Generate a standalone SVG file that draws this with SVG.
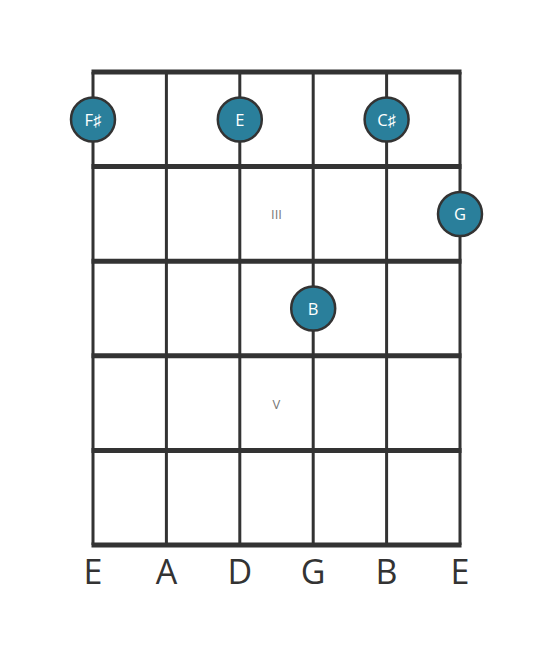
<svg xmlns="http://www.w3.org/2000/svg" width="553" height="656" viewBox="0 0 553 656">
<style>
.fret{stroke:#333;stroke-width:5;}
.str{stroke:#333;stroke-width:3;}
.note circle{fill:#2a7f9b;stroke:#333;stroke-width:2.5;}
.note text{fill:#fff;font-family:"Open Sans",sans-serif;font-size:16.5px;text-anchor:middle;}
.mark{fill:#777;font-family:"Open Sans",sans-serif;font-size:13px;text-anchor:middle;}
.lab{fill:#333;font-family:"Open Sans",sans-serif;font-size:34px;text-anchor:middle;}
</style>
<rect width="553" height="656" fill="#fff"/>
<g id="connectors">
<line class="str" x1="93" y1="72" x2="93" y2="545"/>
<line class="str" x1="166.4" y1="72" x2="166.4" y2="545"/>
<line class="str" x1="239.8" y1="72" x2="239.8" y2="545"/>
<line class="str" x1="313.2" y1="72" x2="313.2" y2="545"/>
<line class="str" x1="386.6" y1="72" x2="386.6" y2="545"/>
<line class="str" x1="460" y1="72" x2="460" y2="545"/>
<line class="fret" x1="91.5" y1="72" x2="461.5" y2="72"/>
<line class="fret" x1="91.5" y1="166.6" x2="461.5" y2="166.6"/>
<line class="fret" x1="91.5" y1="261.2" x2="461.5" y2="261.2"/>
<line class="fret" x1="91.5" y1="355.8" x2="461.5" y2="355.8"/>
<line class="fret" x1="91.5" y1="450.4" x2="461.5" y2="450.4"/>
<line class="fret" x1="91.5" y1="545" x2="461.5" y2="545"/>
</g>
<g id="markers">
<text class="mark" x="276.5" y="218.5">III</text>
<text class="mark" x="276.5" y="408.5">V</text>
</g>
<g id="note-fs" class="note"><circle cx="93" cy="119.5" r="22"/><text x="93" y="125.5">F♯</text></g>
<g id="note-e" class="note"><circle cx="239.8" cy="119.5" r="22"/><text x="239.8" y="125.5">E</text></g>
<g id="note-cs" class="note"><circle cx="386.6" cy="119.5" r="22"/><text x="386.6" y="125.5">C♯</text></g>
<g id="note-g" class="note"><circle cx="460" cy="214" r="22"/><text x="460" y="220">G</text></g>
<g id="note-b" class="note"><circle cx="313.2" cy="308.5" r="22"/><text x="313.2" y="314.5">B</text></g>
<g id="labels">
<text class="lab" x="93" y="584">E</text>
<text class="lab" x="166.4" y="584">A</text>
<text class="lab" x="239.8" y="584">D</text>
<text class="lab" x="313.2" y="584">G</text>
<text class="lab" x="386.6" y="584">B</text>
<text class="lab" x="460" y="584">E</text>
</g>
</svg>
